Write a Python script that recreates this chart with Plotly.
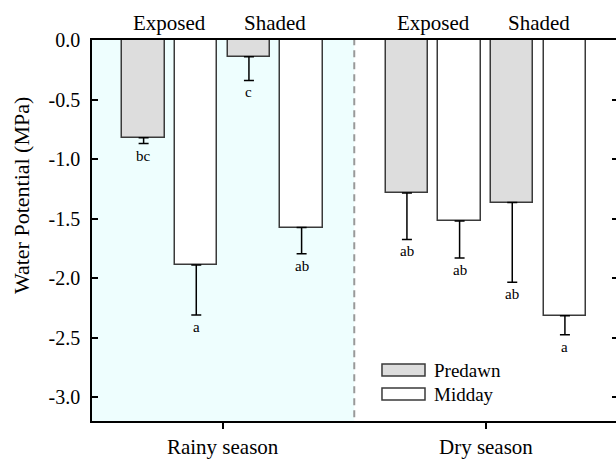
import plotly.graph_objects as go

# Water potential (MPa) by season, exposure and time of day
seasons = ["Rainy season", "Dry season"]
exposures = ["Exposed", "Shaded"]
predawn_mean = [-0.82, -0.14, -1.285, -1.365]   # [rainy exp, rainy sh, dry exp, dry sh]
predawn_se = [0.05, 0.20, 0.39, 0.67]
predawn_letters = ["bc", "c", "ab", "ab"]
midday_mean = [-1.89, -1.575, -1.52, -2.315]
midday_se = [0.42, 0.22, 0.31, 0.16]
midday_letters = ["a", "ab", "ab", "a"]
y_ticks = [0.0, -0.5, -1.0, -1.5, -2.0, -2.5, -3.0]
y_tick_labels = ["0.0", "-0.5", "-1.0", "-1.5", "-2.0", "-2.5", "-3.0"]

FONT = "Liberation Serif"
season_pos = [1, 2]
BAR_W = 0.161
# offsets of the four bars inside one season: exposed pair, then shaded pair
pre_off = [-0.3, 0.1]
mid_off = [-0.1, 0.3]

pre_x = [s + o for s in season_pos for o in pre_off]
mid_x = [s + o for s in season_pos for o in mid_off]

fig = go.Figure()

bar_line = dict(color="#3a3a3a", width=1.5)
fig.add_trace(go.Bar(
    x=pre_x, y=predawn_mean, width=BAR_W, name="Predawn",
    marker=dict(color="#dddddd", line=bar_line),
    error_y=dict(type="data", symmetric=False, array=[0] * 4,
                 arrayminus=predawn_se, color="black", thickness=1.5, width=5),
    showlegend=False,
))
fig.add_trace(go.Bar(
    x=mid_x, y=midday_mean, width=BAR_W, name="Midday",
    marker=dict(color="white", line=bar_line),
    error_y=dict(type="data", symmetric=False, array=[0] * 4,
                 arrayminus=midday_se, color="black", thickness=1.5, width=5),
    showlegend=False,
))
# carrier trace for the mirrored right-hand tick axis
fig.add_trace(go.Scatter(x=[1], y=[0], yaxis="y2", mode="markers",
                         marker=dict(opacity=0), hoverinfo="skip", showlegend=False))

annotations = []
# significance letters under each error bar
for xs, ms, ses, letters in [(pre_x, predawn_mean, predawn_se, predawn_letters),
                             (mid_x, midday_mean, midday_se, midday_letters)]:
    for x, m, se, t in zip(xs, ms, ses, letters):
        annotations.append(dict(x=x, y=m - se, text=t, showarrow=False,
                                yanchor="top", yshift=-2,
                                font=dict(family=FONT, size=15, color="black")))
# exposure headings above each pair of bars
for s in season_pos:
    for e, off in zip(exposures, [-0.2, 0.2]):
        annotations.append(dict(x=s + off, y=1, yref="paper", text=e,
                                showarrow=False, yanchor="bottom", yshift=3,
                                font=dict(family=FONT, size=21, color="black")))
# y-axis title
annotations.append(dict(x=-0.1355, y=0.593, xref="paper", yref="paper",
                        text="Water Potential (MPa)", textangle=-90,
                        showarrow=False, xanchor="center", yanchor="middle",
                        font=dict(family=FONT, size=22, color="black")))

# legend drawn as wide swatches
shapes = [
    dict(type="rect", xref="x", yref="paper", x0=0.5, x1=1.5, y0=0, y1=1,
         fillcolor="#eefefe", line=dict(width=0), layer="below"),
    dict(type="line", xref="x", yref="paper", x0=1.5, x1=1.5, y0=0.01, y1=1,
         line=dict(color="#999999", width=2, dash="7px,5px"), layer="below"),
]
legend_items = [("Predawn", "#dddddd", 0.1496, 0.1181), ("Midday", "white", 0.0866, 0.0551)]
for name, fill, y1, y0 in legend_items:
    shapes.append(dict(type="rect", xref="paper", yref="paper",
                       x0=0.5534, x1=0.6355, y0=y0, y1=y1,
                       fillcolor=fill, line=dict(color="#3a3a3a", width=1.5)))
    annotations.append(dict(x=0.6489, y=(y0 + y1) / 2, xref="paper", yref="paper",
                            text=name, showarrow=False, xanchor="left",
                            yanchor="middle",
                            font=dict(family=FONT, size=19, color="black")))

fig.update_layout(
    width=616, height=459,
    margin=dict(l=92, r=0, t=40, b=38),
    paper_bgcolor="white", plot_bgcolor="white",
    bargap=0, barmode="overlay",
    font=dict(family=FONT, color="black"),
    xaxis=dict(range=[0.504, 2.494], tickvals=season_pos, ticktext=seasons,
               ticks="outside", ticklen=6, tickwidth=1.5, tickcolor="black",
               showline=True, linecolor="black", linewidth=1.5, mirror=True,
               showgrid=False, zeroline=False,
               tickfont=dict(family=FONT, size=21, color="black")),
    yaxis=dict(range=[-3.2, 0], tickvals=y_ticks, ticktext=y_tick_labels,
               ticks="inside", ticklen=6, tickwidth=1.5, tickcolor="black",
               showline=True, linecolor="black", linewidth=1.5,
               showgrid=False, zeroline=False, ticklabelstandoff=6,
               tickfont=dict(family=FONT, size=20, color="black")),
    yaxis2=dict(range=[-3.2, 0], overlaying="y", side="right", tickvals=y_ticks,
                ticks="inside", ticklen=4, tickwidth=1.5, tickcolor="black",
                showline=False, showgrid=False, zeroline=False,
                showticklabels=False),
    shapes=shapes,
    annotations=annotations,
)

fig.write_html("out.html")
